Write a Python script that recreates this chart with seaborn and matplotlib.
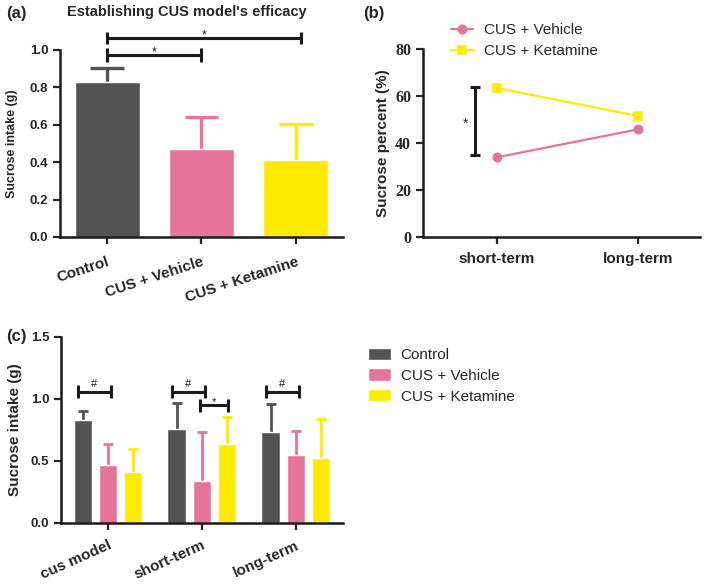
import numpy as np
import pandas as pd
import matplotlib
matplotlib.use("Agg")
import matplotlib.pyplot as plt
import seaborn as sns

# groups and colours
groups = ["Control", "CUS + Vehicle", "CUS + Ketamine"]
colors = ["#535353", "#E67399", "#FFEB00"]

# (a) establishing the CUS model: mean intake and upper SD
intake_a = [0.83, 0.47, 0.41]
sd_a = [0.074, 0.172, 0.193]

# (b) sucrose percent after treatment
phases_b = ["short-term", "long-term"]
pct_vehicle = [33.9, 45.8]
pct_ketamine = [63.4, 51.5]

# (c) sucrose intake at each stage
phases_c = ["cus model", "short-term", "long-term"]
intake_control = [0.83, 0.76, 0.73]
intake_vehicle = [0.47, 0.34, 0.55]
intake_ketamine = [0.41, 0.64, 0.52]
sd_control = [0.07, 0.21, 0.23]
sd_vehicle = [0.17, 0.39, 0.19]
sd_ketamine = [0.19, 0.215, 0.32]

sns.set_style("ticks")
plt.rcParams['font.family'] = ['Liberation Sans', 'DejaVu Sans']
plt.rcParams['axes.linewidth'] = 1.8
plt.rcParams['xtick.major.width'] = 1.6
plt.rcParams['ytick.major.width'] = 1.6
plt.rcParams['xtick.major.size'] = 5
plt.rcParams['ytick.major.size'] = 5
plt.rcParams['axes.edgecolor'] = '#1a1a1a'

INK = '#1a1a1a'


def bracket(ax, x1, x2, y, half, label, raise_pt=0, fs=9):
    kw = dict(color=INK, lw=2.2, clip_on=False, solid_capstyle='butt')
    ax.plot([x1, x2], [y, y], **kw)
    ax.plot([x1, x1], [y - half, y + half], **kw)
    ax.plot([x2, x2], [y - half, y + half], **kw)
    ax.annotate(label, xy=((x1 + x2) / 2, y), xytext=(0, raise_pt),
                textcoords='offset points', ha='center', va='baseline',
                fontsize=fs, color=INK, annotation_clip=False)


def upper_errors(ax, bars, sds, color, cap_half, lw):
    # upper-only error bar: stem from bar top plus a cap
    for p, s in zip(bars, sds):
        xc = p.get_x() + p.get_width() / 2
        h = p.get_height()
        ax.plot([xc, xc], [h, h + s], color=color, lw=lw, zorder=1,
                solid_capstyle='butt')
        ax.plot([xc - cap_half, xc + cap_half], [h + s, h + s], color=color,
                lw=lw, zorder=1, solid_capstyle='butt')


fig = plt.figure(figsize=(7.09, 5.85), dpi=100)

# ---- (a)
ax_a = fig.add_axes([0.0846, 0.5949, 0.3992, 0.3197])
df_a = pd.DataFrame({"group": groups, "intake": intake_a})
sns.barplot(data=df_a, x="group", y="intake", hue="group", palette=colors,
            width=0.69, legend=False, ax=ax_a, saturation=1, zorder=2)
for p, c, s in zip(ax_a.patches, colors, sd_a):
    upper_errors(ax_a, [p], [s], c, 0.18, 2.4)
ax_a.set_ylim(0, 1.0)
ax_a.set_xlim(-0.5, 2.5)
ax_a.set_yticks([0, 0.2, 0.4, 0.6, 0.8, 1.0])
ax_a.set_yticklabels([f"{v:.1f}" for v in [0, 0.2, 0.4, 0.6, 0.8, 1.0]],
                     fontsize=9.5, fontweight='bold')
ax_a.set_xticks(range(3))
ax_a.set_xticklabels(groups, rotation=18, ha='right', rotation_mode='anchor',
                     fontsize=11, fontweight='bold')
ax_a.tick_params(axis='x', pad=8)
ax_a.set_xlabel("")
ax_a.set_ylabel("Sucrose intake (g)", fontsize=9, fontweight='bold', labelpad=8)
sns.despine(ax=ax_a)
bracket(ax_a, 0, 1, 0.973, 0.035, "*", raise_pt=0)
bracket(ax_a, 0, 2.05, 1.063, 0.032, "*", raise_pt=0)
fig.text(0.263, 0.979, "Establishing CUS model's efficacy", ha='center', va='center',
         fontsize=10.5, fontweight='bold')
fig.text(0.008, 0.977, "(a)", ha='left', va='center', fontsize=12, fontweight='bold')

# ---- (b)
ax_b = fig.add_axes([0.5966, 0.5949, 0.3907, 0.3214])
df_b = pd.DataFrame({
    "phase": phases_b * 2,
    "pct": pct_vehicle + pct_ketamine,
    "group": ["CUS + Vehicle"] * 2 + ["CUS + Ketamine"] * 2,
})
sns.pointplot(data=df_b, x="phase", y="pct", hue="group",
              palette=colors[1:], markers=["o", "s"], errorbar=None,
              markersize=6, linewidth=1.6, ax=ax_b)
ax_b.set_ylim(0, 80)
ax_b.set_xlim(-0.525, 1.44)
ax_b.set_yticks([0, 20, 40, 60, 80])
ax_b.set_yticklabels(["0", "20", "40", "60", "80"], fontsize=11.5, fontweight='bold',
                     family='Liberation Serif')
ax_b.set_xticks([0, 1])
ax_b.set_xticklabels(phases_b, fontsize=11, fontweight='bold')
ax_b.tick_params(axis='x', pad=6)
ax_b.set_xlabel("")
ax_b.set_ylabel("Sucrose percent (%)", fontsize=11, fontweight='bold')
sns.despine(ax=ax_b)
handles, labels = ax_b.get_legend_handles_labels()
ax_b.legend(handles, labels, loc='upper left', bbox_to_anchor=(0.625, 0.973),
            bbox_transform=fig.transFigure, frameon=False, fontsize=11,
            borderpad=0, handlelength=1.45, handletextpad=0.7, labelspacing=0.45)
# vertical significance bracket
bkw = dict(color=INK, lw=2.2, solid_capstyle='butt')
ax_b.plot([-0.156, -0.156], [34.7, 63.8], **bkw)
ax_b.plot([-0.19, -0.122], [63.8, 63.8], **bkw)
ax_b.plot([-0.19, -0.122], [34.7, 34.7], **bkw)
ax_b.text(-0.22, 48, "*", ha='center', va='center', fontsize=10)
fig.text(0.512, 0.977, "(b)", ha='left', va='center', fontsize=12, fontweight='bold')

# ---- (c)
ax_c = fig.add_axes([0.086, 0.106, 0.3977, 0.318])
df_c = pd.DataFrame({
    "phase": phases_c * 3,
    "intake": intake_control + intake_vehicle + intake_ketamine,
    "group": [g for g in groups for _ in phases_c],
})
sns.barplot(data=df_c, x="phase", y="intake", hue="group", palette=colors,
            width=0.8, gap=0.25, ax=ax_c, saturation=1, zorder=2)
for cont, c, sds in zip(ax_c.containers, colors, [sd_control, sd_vehicle, sd_ketamine]):
    upper_errors(ax_c, list(cont), sds, c, 0.055, 2.0)
ax_c.set_ylim(0, 1.5)
ax_c.set_xlim(-0.5, 2.5)
ax_c.set_yticks([0, 0.5, 1.0, 1.5])
ax_c.set_yticklabels(["0.0", "0.5", "1.0", "1.5"], fontsize=9.5, fontweight='bold')
ax_c.set_xticks(range(3))
ax_c.set_xticklabels(phases_c, rotation=24, ha='right', rotation_mode='anchor',
                     fontsize=11, fontweight='bold')
ax_c.tick_params(axis='x', pad=6)
ax_c.set_xlabel("")
ax_c.set_ylabel("Sucrose intake (g)", fontsize=11, fontweight='bold', labelpad=6)
sns.despine(ax=ax_c)

ctrl_x = [p.get_x() + p.get_width() / 2 for p in ax_c.containers[0]]
veh_x = [p.get_x() + p.get_width() / 2 for p in ax_c.containers[1]]
ket_x = [p.get_x() + p.get_width() / 2 for p in ax_c.containers[2]]
for i in range(3):
    bracket(ax_c, ctrl_x[i] - 0.05, veh_x[i] + 0.03, 1.06, 0.052, "#", raise_pt=3.5, fs=8)
bracket(ax_c, veh_x[1] - 0.02, ket_x[1] + 0.01, 0.95, 0.052, "*", raise_pt=0, fs=8)

h, l = ax_c.get_legend_handles_labels()
ax_c.legend(h, l, loc='upper left', bbox_to_anchor=(0.5078, 0.419),
            bbox_transform=fig.transFigure, frameon=False, fontsize=11,
            borderpad=0, handlelength=1.5, handleheight=0.85, handletextpad=0.65,
            labelspacing=0.42)
fig.text(0.008, 0.424, "(c)", ha='left', va='center', fontsize=12, fontweight='bold')

fig.savefig("out.png", dpi=100)
